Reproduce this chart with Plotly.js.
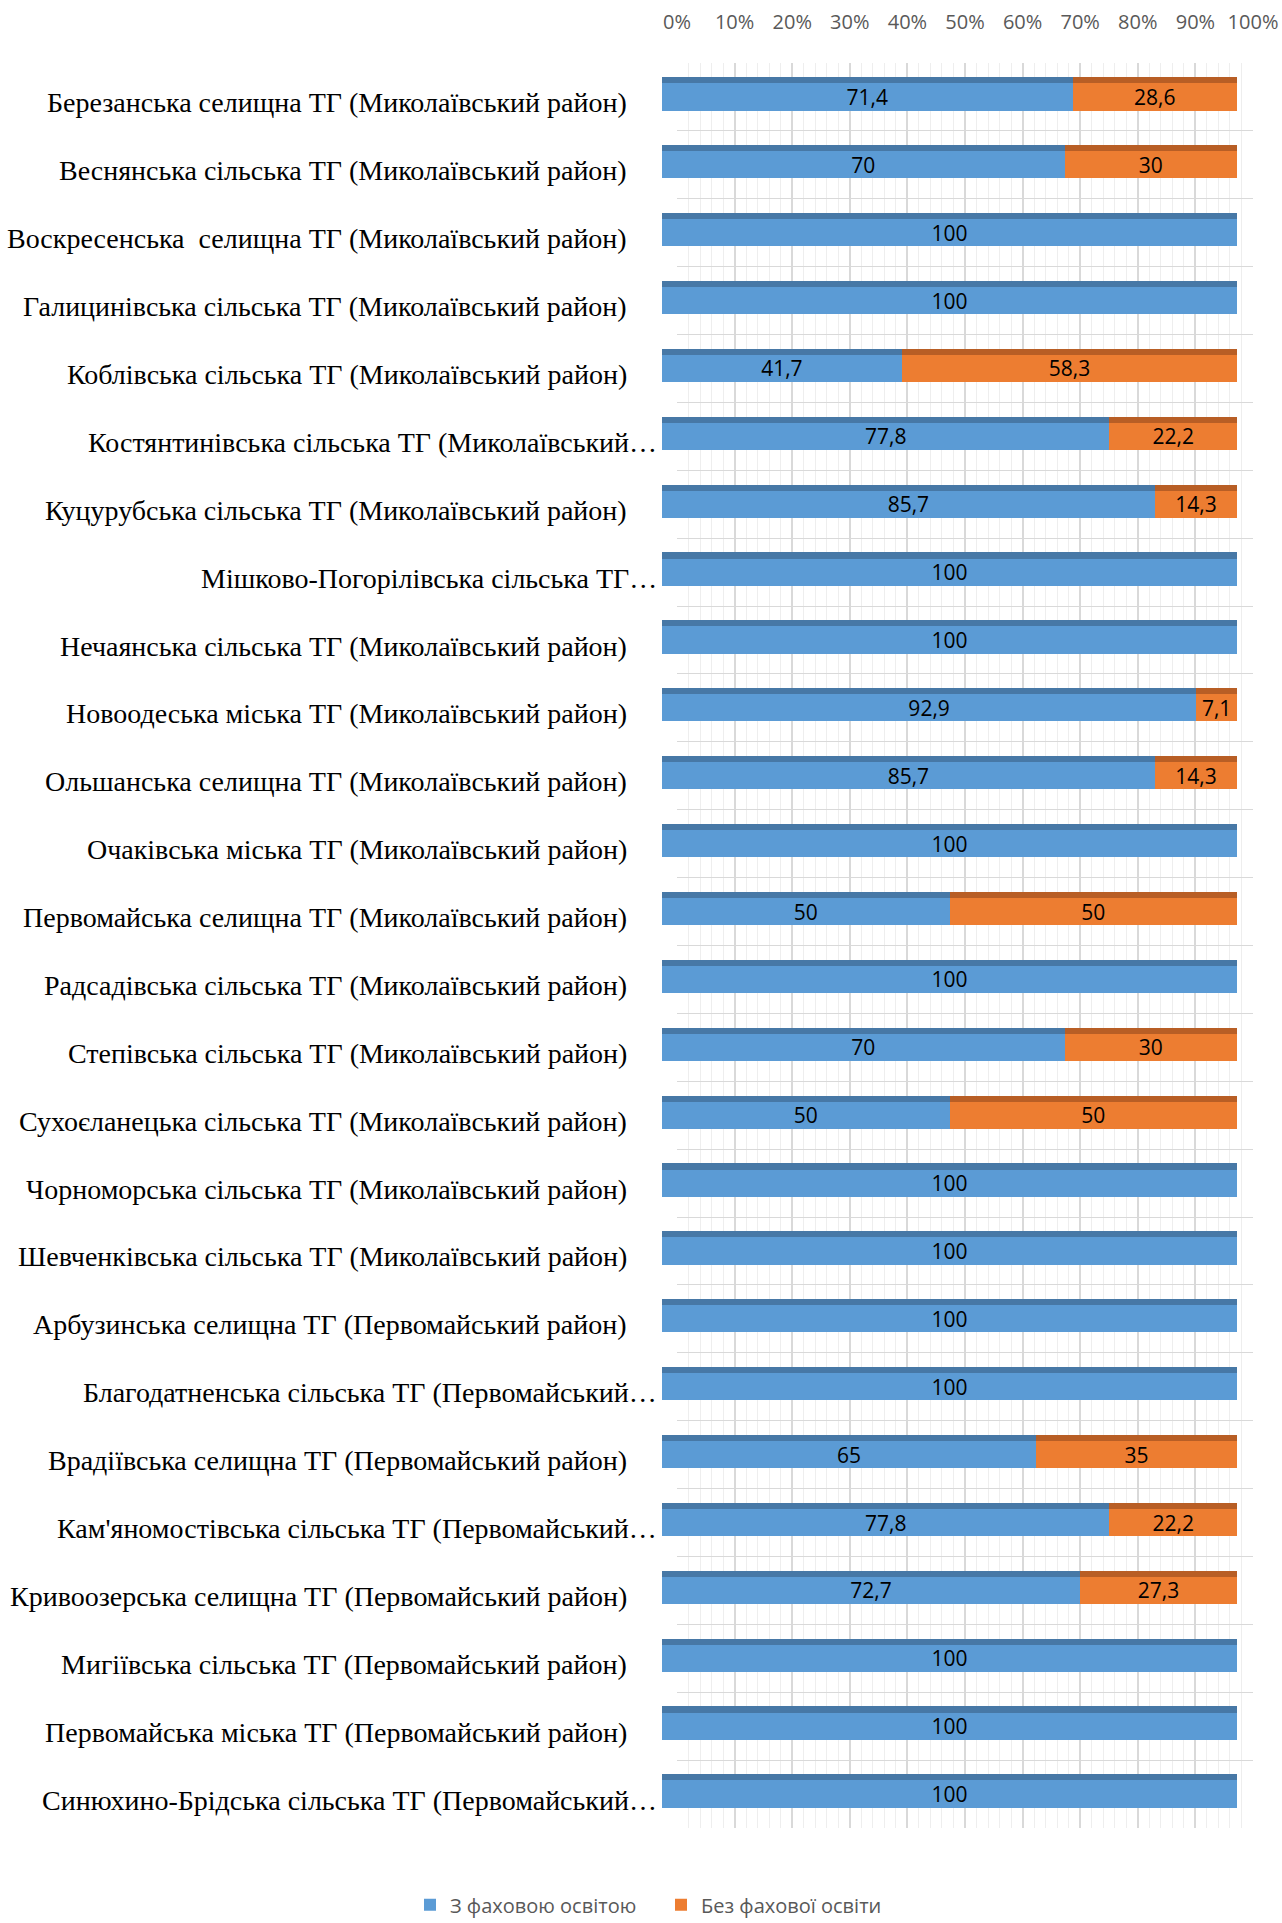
<!DOCTYPE html>
<html>
<head>
<meta charset="utf-8">
<script src="https://cdn.plot.ly/plotly-3.0.1.min.js"></script>
<style>html,body{margin:0;padding:0;background:#fff;}</style>
</head>
<body>
<div id="chart" style="width:1282px;height:1923px;"></div>
<script>
const categories = [
  "Березанська селищна ТГ (Миколаївський район)",
  "Веснянська сільська ТГ (Миколаївський район)",
  "Воскресенська  селищна ТГ (Миколаївський район)",
  "Галицинівська сільська ТГ (Миколаївський район)",
  "Коблівська сільська ТГ (Миколаївський район)",
  "Костянтинівська сільська ТГ (Миколаївський…",
  "Куцурубська сільська ТГ (Миколаївський район)",
  "Мішково-Погорілівська сільська ТГ…",
  "Нечаянська сільська ТГ (Миколаївський район)",
  "Новоодеська міська ТГ (Миколаївський район)",
  "Ольшанська селищна ТГ (Миколаївський район)",
  "Очаківська міська ТГ (Миколаївський район)",
  "Первомайська селищна ТГ (Миколаївський район)",
  "Радсадівська сільська ТГ (Миколаївський район)",
  "Степівська сільська ТГ (Миколаївський район)",
  "Сухоєланецька сільська ТГ (Миколаївський район)",
  "Чорноморська сільська ТГ (Миколаївський район)",
  "Шевченківська сільська ТГ (Миколаївський район)",
  "Арбузинська селищна ТГ (Первомайський район)",
  "Благодатненська сільська ТГ (Первомайський…",
  "Врадіївська селищна ТГ (Первомайський район)",
  "Кам'яномостівська сільська ТГ (Первомайський…",
  "Кривоозерська селищна ТГ (Первомайський район)",
  "Мигіївська сільська ТГ (Первомайський район)",
  "Первомайська міська ТГ (Первомайський район)",
  "Синюхино-Брідська сільська ТГ (Первомайський…"
];
const withEducation = [71.4, 70, 100, 100, 41.7, 77.8, 85.7, 100, 100, 92.9, 85.7, 100, 50, 100, 70, 50, 100, 100, 100, 100, 65, 77.8, 72.7, 100, 100, 100];
const withoutEducation = [28.6, 30, 0, 0, 58.3, 22.2, 14.3, 0, 0, 7.1, 14.3, 0, 50, 0, 30, 50, 0, 0, 0, 0, 35, 22.2, 27.3, 0, 0, 0];
const seriesNames = ["З фаховою освітою", "Без фахової освіти"];
const xTickVals = [0, 10, 20, 30, 40, 50, 60, 70, 80, 90, 100];
const xTickText = xTickVals.map(v => v + "%");

const fmt = v => v === 0 ? "" : String(v).replace(".", ",");
const labelFont = {family: "Open Sans, Liberation Sans, sans-serif", size: 21, color: "#000000"};

const front = [
  {name: seriesNames[0], vals: withEducation, color: "#5B9BD5", top: "#4778A6"},
  {name: seriesNames[1], vals: withoutEducation, color: "#ED7D31", top: "#B85E25"}
];

// invisible trace to register the back-wall subplot (x / y): gridlines + percent ticks
const traces = [{
  type: "scatter", mode: "markers", x: [], y: [], xaxis: "x", yaxis: "y",
  showlegend: false, hoverinfo: "skip"
}];
// front plane bars (x2 / y2)
front.forEach(s => {
  traces.push({
    type: "bar", orientation: "h", name: s.name,
    y: categories, x: s.vals,
    width: 0.4,
    marker: {color: s.color, line: {width: 0}},
    text: s.vals.map(fmt), textposition: "inside", insidetextanchor: "middle",
    textangle: 0, constraintext: "none",
    textfont: labelFont, hoverinfo: "x+y",
    xaxis: "x2", yaxis: "y2"
  });
});
// darker top faces (x2 / y3, overlay so they are stacked separately)
front.forEach(s => {
  traces.push({
    type: "bar", orientation: "h", name: s.name + " top", showlegend: false,
    y: categories, x: s.vals,
    width: 0.09, offset: -0.29,
    marker: {color: s.top, line: {width: 0}},
    hoverinfo: "skip",
    xaxis: "x2", yaxis: "y3"
  });
});

// category labels as annotations (truncated ones reach further right, as in the original)
const annotations = categories.map(c => ({
  xref: "paper", yref: "y", x: c.endsWith("…") ? -0.0049 : -0.0555, y: c,
  xanchor: "right", yanchor: "middle", yshift: -6,
  text: c, showarrow: false,
  font: {family: "Liberation Serif, Times New Roman, serif", size: 28, color: "#000000"}
}));

const catAxis = {
  type: "category", categoryorder: "array", categoryarray: categories,
  autorange: "reversed", ticks: "", showline: false, zeroline: false,
  showticklabels: false, fixedrange: true
};

const layout = {
  width: 1282, height: 1923,
  margin: {l: 662, r: 29, t: 63, b: 95},
  paper_bgcolor: "#ffffff", plot_bgcolor: "rgba(0,0,0,0)",
  barmode: "stack",
  showlegend: true,
  legend: {
    orientation: "h", xref: "container", yref: "container",
    x: 0.5156, xanchor: "center", y: 0.0095, yanchor: "middle",
    font: {family: "Open Sans, Liberation Sans, sans-serif", size: 20, color: "#595959"},
    itemwidth: 30, entrywidth: 206, entrywidthmode: "pixels", traceorder: "normal"
  },
  annotations: annotations,
  // back wall: gridlines and percent ticks
  xaxis: {
    domain: [0.0254, 1], range: [0, 100], anchor: "y", side: "top",
    tickmode: "array", tickvals: xTickVals, ticktext: xTickText,
    tickfont: {family: "Open Sans, Liberation Sans, sans-serif", size: 20, color: "#595959"},
    showgrid: true, gridcolor: "#D9D9D9", gridwidth: 2,
    minor: {dtick: 2, showgrid: true, gridcolor: "#EEEEEE", gridwidth: 1},
    zeroline: false, showline: false, ticks: "", ticklabelstandoff: 29, fixedrange: true
  },
  yaxis: Object.assign({}, catAxis, {anchor: "x",
    tickson: "boundaries", showgrid: true, gridcolor: "#D9D9D9", gridwidth: 1}),
  // front plane: bars
  xaxis2: {
    domain: [0, 0.973], range: [0, 100], anchor: "y2",
    showgrid: false, showticklabels: false, ticks: "", zeroline: false, showline: false, fixedrange: true
  },
  yaxis2: Object.assign({}, catAxis, {anchor: "x2", matches: "y", showgrid: false}),
  yaxis3: Object.assign({}, catAxis, {overlaying: "y2", matches: "y", anchor: "x2", showgrid: false, visible: false})
};

Plotly.newPlot("chart", traces, layout, {displayModeBar: false, staticPlot: true});
</script>
</body>
</html>
